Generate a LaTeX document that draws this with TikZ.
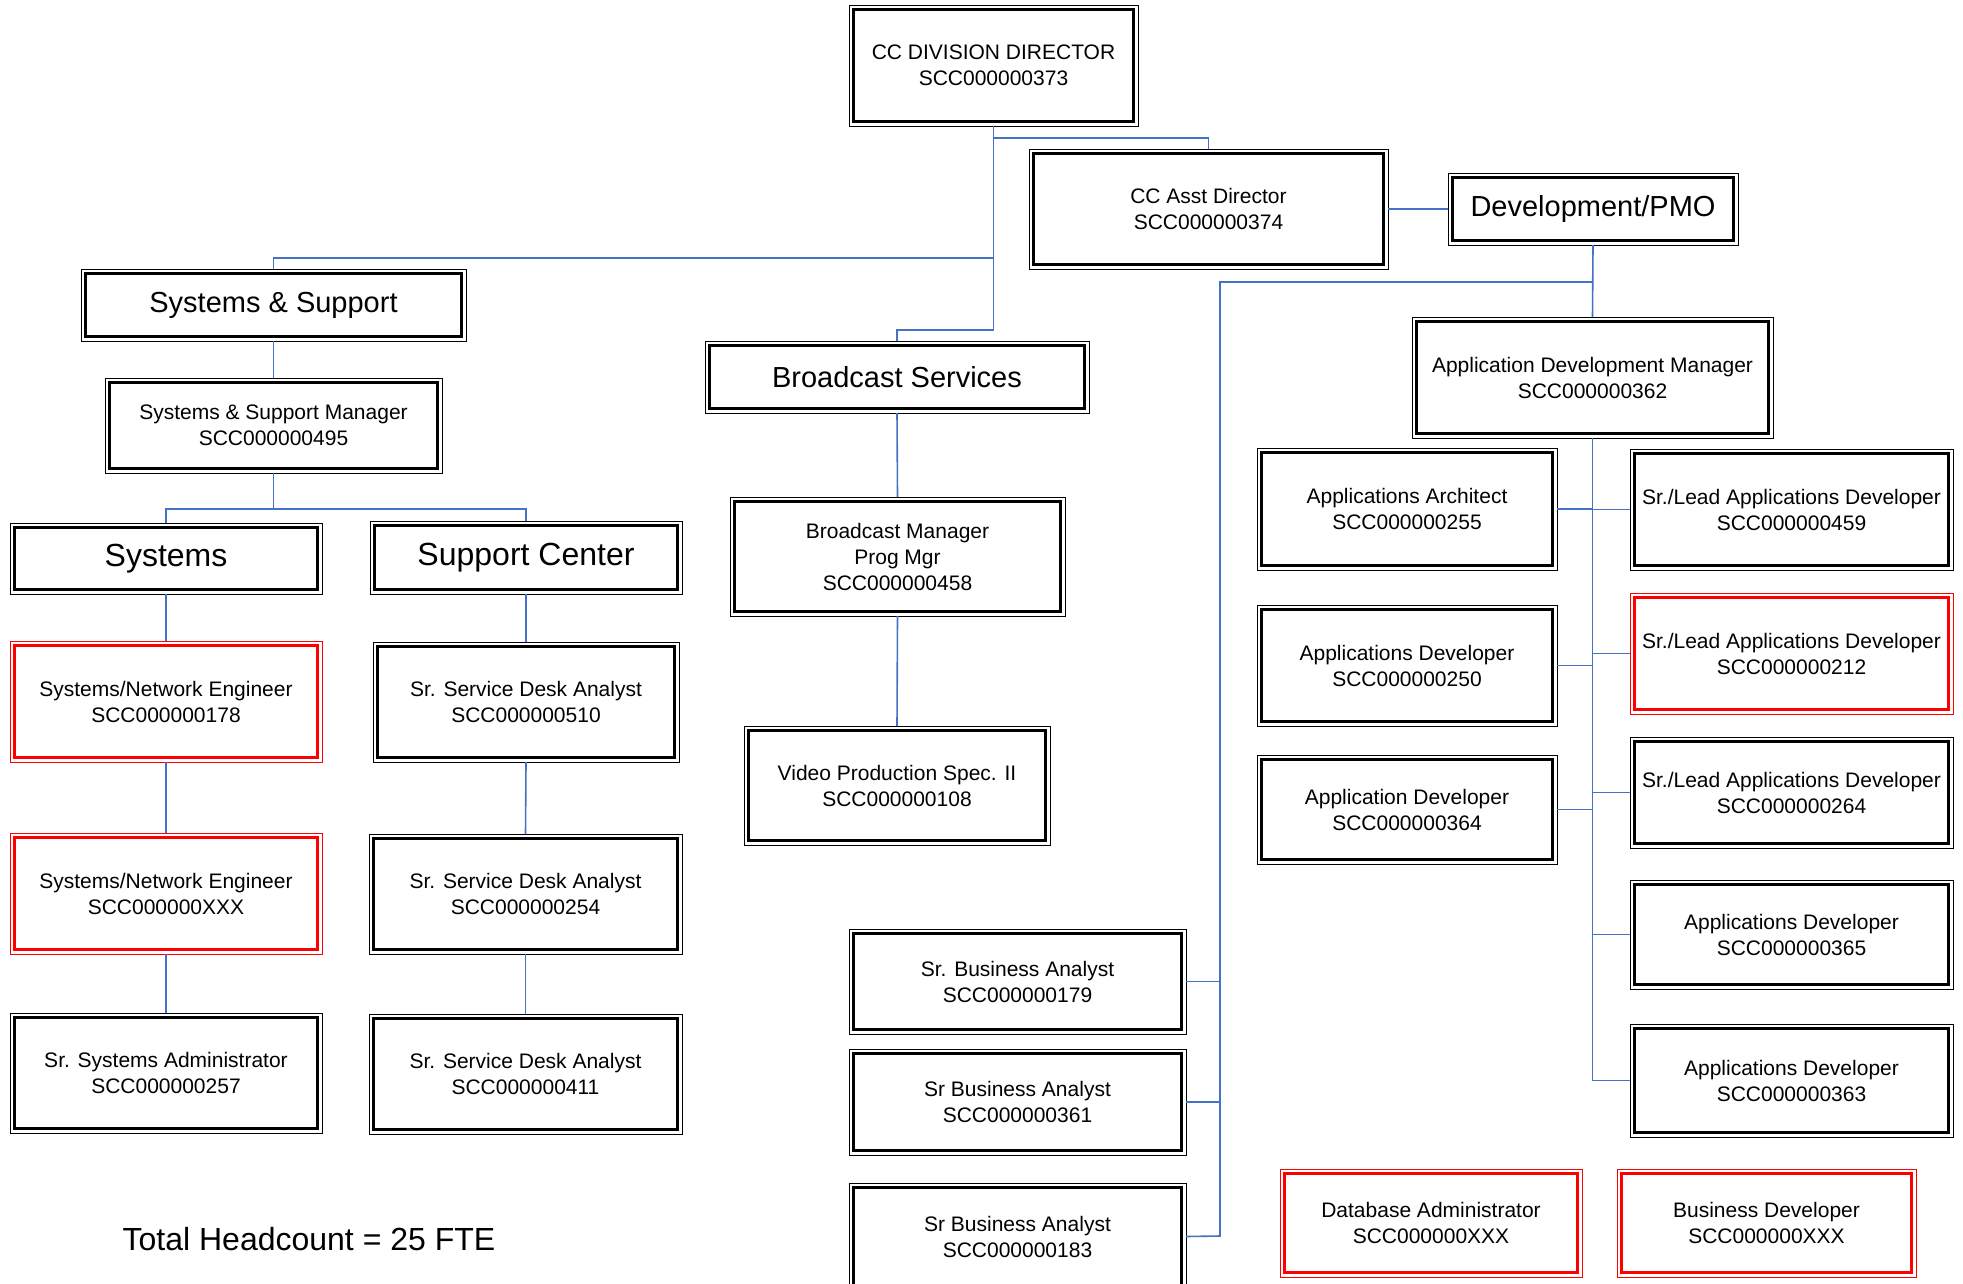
\documentclass[tikz,border=0pt]{standalone}
\usepackage{fontspec}
\setmainfont{Liberation Sans}
\definecolor{connblue}{HTML}{4472C4}
\definecolor{boxred}{HTML}{FF0000}
\newcommand{\bodyfnt}{\fontsize{21}{26}\selectfont}
\newcommand{\titlefnt}{\fontsize{29}{34}\selectfont}
\newcommand{\bigtitlefnt}{\fontsize{32}{38}\selectfont}
% #1 name, #2 x1, #3 y1, #4 x2, #5 y2, #6 colour, #7 text
\newcommand{\obox}[7]{%
  \node[draw=#6, line width=1pt, minimum width={(#4-#2)*1pt}, minimum height={(#5-#3)*1pt},
        inner sep=0pt, outer sep=0pt, align=center, font=\bodyfnt, text=black]
        (#1) at ({(#2+#4)/2},{(#3+#5)/2}) {#7};
  \draw[#6, line width=2.2pt] ([shift={(4.5,4.5)}]#1.north west) rectangle ([shift={(-4.5,-4.5)}]#1.south east);
}
\tikzset{conn/.style={draw=connblue, line width=1.6pt}}
\begin{document}
\begin{tikzpicture}[x=1pt, y=-1pt]
\clip (0,0) rectangle (1963,1283);
\fill[white] (0,0) rectangle (1963,1283);

% top
\obox{dir}{849}{5}{1138}{126}{black}{CC DIVISION DIRECTOR\\SCC000000373}
\obox{asst}{1029}{149}{1388}{269}{black}{CC Asst Director\\SCC000000374}
\obox{dev}{1448}{173}{1738}{245}{black}{\titlefnt Development/PMO}

% systems & support
\obox{ss}{81}{269}{466}{341}{black}{\titlefnt Systems \& Support}
\obox{ssm}{105}{378}{442}{473}{black}{Systems \& Support Manager\\SCC000000495}
\obox{sys}{10}{523}{322}{594}{black}{\bigtitlefnt Systems}
\obox{sc}{370}{521}{682}{594}{black}{\bigtitlefnt Support Center}
\obox{sne1}{10}{641}{322}{762}{boxred}{Systems/Network Engineer\\SCC000000178}
\obox{sne2}{10}{833}{322}{954}{boxred}{Systems/Network Engineer\\SCC000000XXX}
\obox{ssa}{10}{1013}{322}{1133}{black}{Sr. Systems Administrator\\SCC000000257}
\obox{sd510}{373}{642}{679}{762}{black}{Sr. Service Desk Analyst\\SCC000000510}
\obox{sd254}{369}{834}{682}{954}{black}{Sr. Service Desk Analyst\\SCC000000254}
\obox{sd411}{369}{1014}{682}{1134}{black}{Sr. Service Desk Analyst\\SCC000000411}

% broadcast
\obox{bs}{705}{341}{1089}{413}{black}{\titlefnt Broadcast Services}
\obox{bm}{730}{497}{1065}{616}{black}{Broadcast Manager\\Prog Mgr\\SCC000000458}
\obox{vp}{744}{726}{1050}{845}{black}{Video Production Spec. II\\SCC000000108}

% business analysts
\obox{ba179}{849}{929}{1186}{1034}{black}{Sr. Business Analyst\\SCC000000179}
\obox{ba361}{849}{1049}{1186}{1155}{black}{Sr Business Analyst\\SCC000000361}
\obox{ba183}{849}{1183}{1186}{1290}{black}{Sr Business Analyst\\SCC000000183}

% application development
\obox{adm}{1412}{317}{1773}{438}{black}{Application Development Manager\\SCC000000362}
\obox{aa}{1257}{448}{1557}{570}{black}{Applications Architect\\SCC000000255}
\obox{ad250}{1257}{605}{1557}{726}{black}{Applications Developer\\SCC000000250}
\obox{ad364}{1257}{755}{1557}{864}{black}{Application Developer\\SCC000000364}
\obox{sl459}{1630}{449}{1953}{570}{black}{Sr./Lead Applications Developer\\SCC000000459}
\obox{sl212}{1630}{593}{1953}{714}{boxred}{Sr./Lead Applications Developer\\SCC000000212}
\obox{sl264}{1630}{737}{1953}{848}{black}{Sr./Lead Applications Developer\\SCC000000264}
\obox{ad365}{1630}{880}{1953}{989}{black}{Applications Developer\\SCC000000365}
\obox{ad363}{1630}{1024}{1953}{1137}{black}{Applications Developer\\SCC000000363}
\obox{dba}{1280}{1169}{1582}{1277}{boxred}{Database Administrator\\SCC000000XXX}
\obox{bdev}{1617}{1169}{1916}{1277}{boxred}{Business Developer\\SCC000000XXX}

\node[font=\fontsize{32}{38}\selectfont, inner sep=0pt] (total) at (309,1239) {Total Headcount = 25 FTE};

% connectors
\coordinate (jasst) at (993.5,138);
\coordinate (jss) at (993.5,258);
\coordinate (jbs) at (993.5,330);
\draw[conn] (dir.south) -- (jbs) -| (bs.north);
\draw[conn] (jasst) -| (asst.north);
\draw[conn] (jss) -| (ss.north);
\draw[conn] (asst.east) -- (dev.west);

\coordinate (jsm) at (273.5,509);
\draw[conn] (ss.south) -- (ssm.north);
\draw[conn] (ssm.south) -- (jsm);
\draw[conn] (sys.north) |- (jsm) -| (sc.north);
\draw[conn] (sys.south) -- (sne1.north);
\draw[conn] (sne1.south) -- (sne2.north);
\draw[conn] (sne2.south) -- (ssa.north);
\draw[conn] (sc.south) -- (sd510.north);
\draw[conn] (sd510.south) -- (sd254.north);
\draw[conn] (sd254.south) -- (sd411.north);

\draw[conn] (bs.south) -- (bm.north);
\draw[conn] (bm.south) -- (vp.north);

\coordinate (jleft) at (1593,282);
\coordinate (ltb) at (1220,1236);
\draw[conn] (dev.south) -- (adm.north);
\draw[conn] (jleft) -| (ltb) -- (ba183.east);
\draw[conn] (ba179.east) -- (ba179.east -| ltb);
\draw[conn] (ba361.east) -- (ba361.east -| ltb);

\draw[conn] (adm.south) |- (ad363.west);
\draw[conn] (aa.east) -- (aa.east -| adm.south);
\draw[conn] (ad250.east) -- (ad250.east -| adm.south);
\draw[conn] (ad364.east) -- (ad364.east -| adm.south);
\draw[conn] (sl459.west) -- (sl459.west -| adm.south);
\draw[conn] (sl212.west) -- (sl212.west -| adm.south);
\draw[conn] (sl264.west) -- (sl264.west -| adm.south);
\draw[conn] (ad365.west) -- (ad365.west -| adm.south);
\end{tikzpicture}
\end{document}
